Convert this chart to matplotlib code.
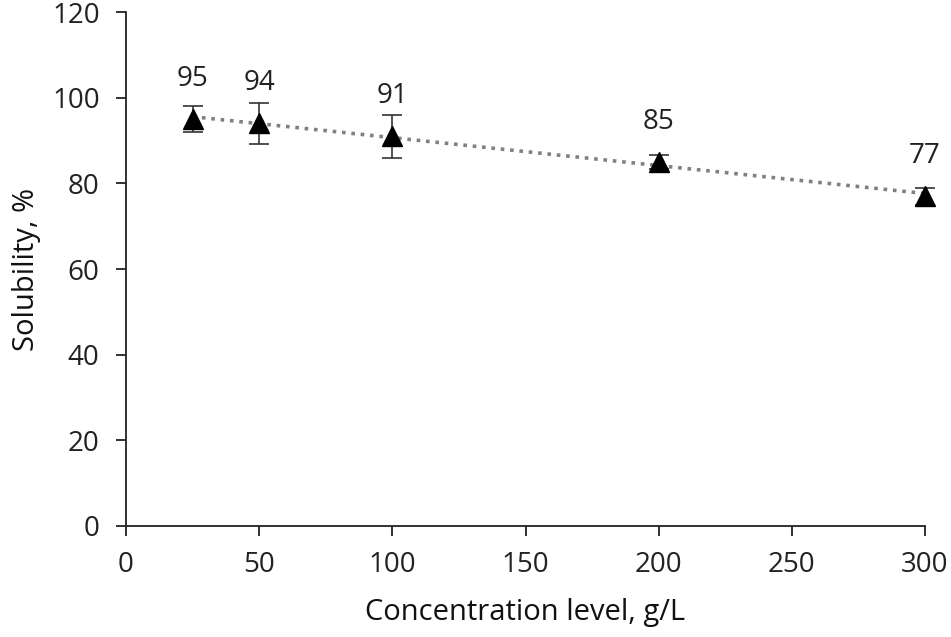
import matplotlib.pyplot as plt
import numpy as np

plt.rcParams['font.family'] = ['Open Sans', 'DejaVu Sans']

# concentration levels, solubility and error bar half-widths
conc = [25, 50, 100, 200, 300]
solubility = [95, 94, 91, 85, 77]
err = [3.0, 4.8, 5.0, 1.6, 2.0]
labels = ['95', '94', '91', '85', '77']

fig = plt.figure(figsize=(9.51, 6.37), dpi=100)
ax = fig.add_axes([0.1325, 0.1743, 0.8402, 0.8067])

# linear trendline, dotted
slope, icpt = np.polyfit(conc, solubility, 1)
xt = np.array([conc[0], conc[-1]])
ax.plot(xt, slope * xt + icpt, linestyle=(0, (1, 1.6)), color='#808080',
        linewidth=2.6, zorder=1, clip_on=False)

ax.errorbar(conc, solubility, yerr=err, fmt='^', color='black',
            markersize=14, ecolor='#333333', elinewidth=1.2, capsize=7,
            capthick=1.2, zorder=3, clip_on=False)

for x, y, t in zip(conc, solubility, labels):
    ax.annotate(t, (x, y), xytext=(0, 29), textcoords='offset points',
                ha='center', va='center', fontsize=20, color='#222222')

ax.set_xlim(0, 300)
ax.set_ylim(0, 120)
ax.set_xticks(np.arange(0, 301, 50))
ax.set_yticks(np.arange(0, 121, 20))
ax.tick_params(direction='out', length=7, width=1.3, labelsize=20,
               colors='#222222')
ax.tick_params(axis='y', pad=12)
ax.tick_params(axis='x', pad=11)
ax.spines['top'].set_visible(False)
ax.spines['right'].set_visible(False)
for s in ('left', 'bottom'):
    ax.spines[s].set_linewidth(1.3)
    ax.spines[s].set_color('#222222')

ax.set_xlabel('Concentration level, g/L', fontsize=21, color='#111111',
              labelpad=14)
ax.set_ylabel('Solubility, %', fontsize=21, color='#111111', labelpad=8)

fig.savefig('out.png', dpi=100)
